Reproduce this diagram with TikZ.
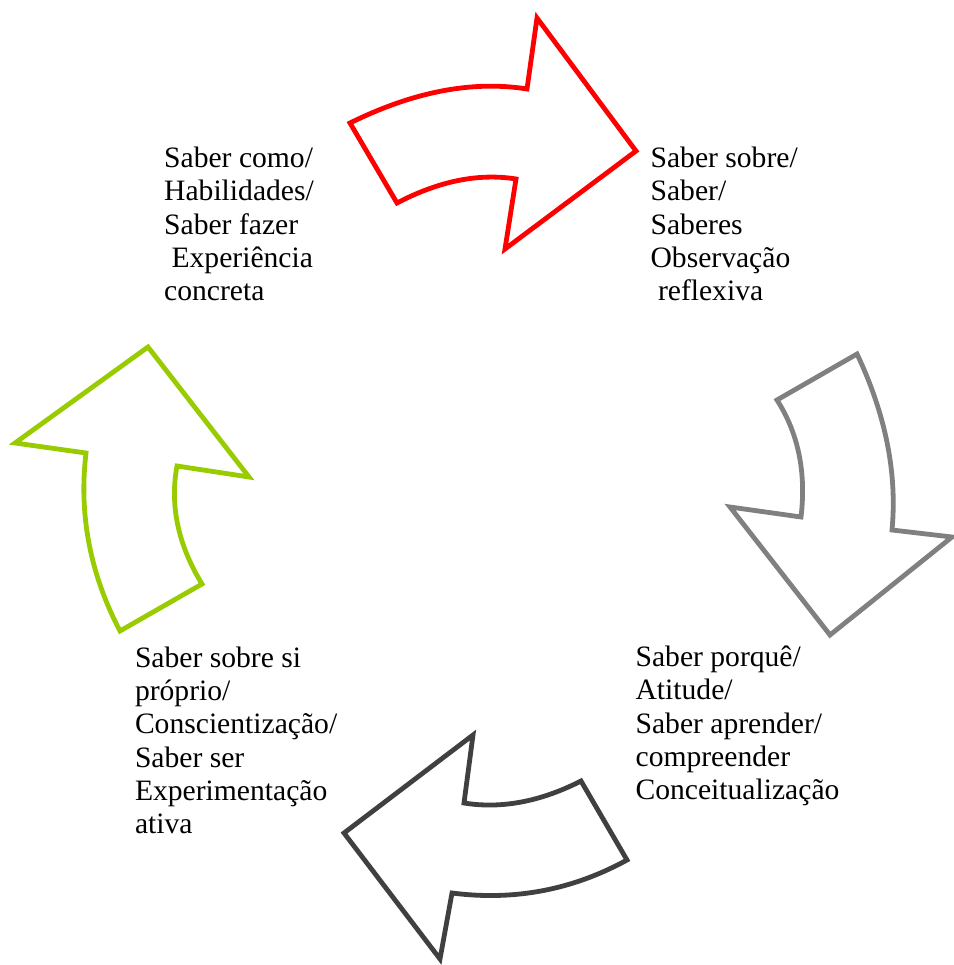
\documentclass[tikz,border=0pt]{standalone}
\usepackage{fontspec}
\setmainfont{Liberation Serif}
\definecolor{arrRed}{HTML}{FF0000}
\definecolor{arrGray}{HTML}{808080}
\definecolor{arrDark}{HTML}{404040}
\definecolor{arrGreen}{HTML}{99CC00}
\tikzset{
  bigarrow/.style={line width=4.8pt, line join=miter, miter limit=10, fill=white},
  label/.style={anchor=north west, inner sep=0pt, align=left,
    font=\fontsize{29.6}{33.3}\selectfont},
}
\begin{document}
\begin{tikzpicture}[x=1pt,y=-1pt]
\useasboundingbox (0,0) rectangle (953,965);
% red arrow (top)
\draw[bigarrow, draw=arrRed] (350,123) .. controls (413.3,91.7) and (472.3,80.3) .. (527,89)
  -- (537,18) -- (636,151) -- (505,249) -- (516,179)
  .. controls (478.7,173) and (439,181) .. (397,203) -- cycle;
% gray arrow (right)
\draw[bigarrow, draw=arrGray] (857,354) -- (777,400)
  .. controls (798.3,433.3) and (806.3,472.3) .. (801,517)
  -- (730,507) -- (830,635) -- (952,537) -- (892,530)
  .. controls (897.3,473.3) and (885.7,414.7) .. (857,354) -- cycle;
% dark arrow (bottom)
\draw[bigarrow, draw=arrDark] (344,833) -- (473,735) -- (464,803)
  .. controls (501.3,809) and (540.3,801.7) .. (581,781)
  -- (627,860)
  .. controls (572.3,890) and (514,901) .. (452,893)
  -- (440,959) -- cycle;
% green arrow (left)
\draw[bigarrow, draw=arrGreen] (148,347) -- (249,477) -- (177,466)
  .. controls (169.7,505.3) and (178,544.7) .. (202,584)
  -- (120,631)
  .. controls (90,573.7) and (78.7,514.3) .. (86,453)
  -- (15,443) -- cycle;
% texts
\node[label] (tl) at (164,146.9) {Saber como/\\Habilidades/\\Saber fazer\\~Experiência\\concreta};
\node[label] (tr) at (650.4,146.9) {Saber sobre/\\Saber/\\Saberes\\Observação\\~reflexiva};
\node[label] (br) at (635.4,645.8) {Saber porquê/\\Atitude/\\Saber aprender/\\compreender\\Conceitualização};
\node[label] (bl) at (134.8,646.4) {Saber sobre si\\próprio/\\Conscientização/\\Saber ser\\Experimentação\\ativa};
\end{tikzpicture}
\end{document}
